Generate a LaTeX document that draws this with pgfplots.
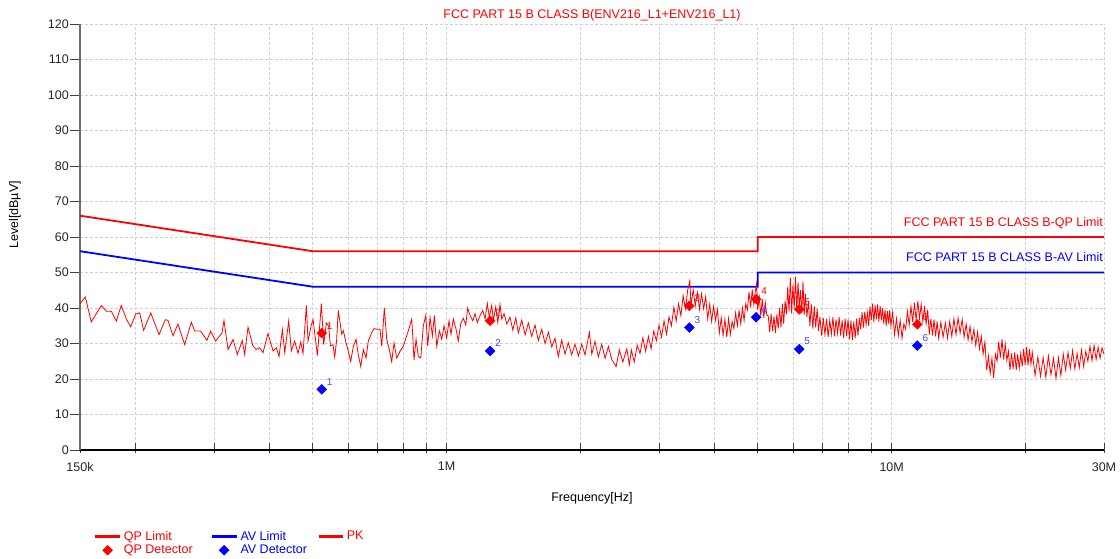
\documentclass[border=0pt]{standalone}
\usepackage{fontspec}
\setmainfont{Liberation Sans}
\usepackage{pgfplots}
\pgfplotsset{compat=1.18}
\definecolor{avlbl}{RGB}{70,70,255}
\definecolor{gridc}{RGB}{208,208,208}
\definecolor{axgray}{RGB}{110,110,110}
\pgfplotsset{
  qpleg/.style={legend image code/.code={\fill[red] (0pt,-0.9pt) rectangle (23pt,0.9pt);}},
  avleg/.style={legend image code/.code={\fill[blue] (0pt,-0.9pt) rectangle (23pt,0.9pt);}},
  pkleg/.style={legend image code/.code={\fill[red] (0pt,-0.9pt) rectangle (23pt,0.9pt);}},
  markleg/.style={legend image code/.code={\draw[##1] plot coordinates {(11.5pt,0pt)};}},
}
\begin{document}
\fontsize{12.5}{14}\selectfont
\begin{tikzpicture}[x=1pt,y=1pt]
\path[use as bounding box] (-80,-109) rectangle (1040,450);
\begin{axis}[
  at={(0,0)}, anchor=south west,
  scale only axis, width=1024pt, height=426pt,
  clip mode=individual,
  xmode=log, xmin=0.15, xmax=30, ymin=0, ymax=120,
  /pgf/number format/assume math mode=true,
  axis lines=left, axis line style={-},
  x axis line style={black, line width=1.1pt},
  y axis line style={axgray, line width=1.6pt},
  xtick={0.15,1,10,30}, xticklabels={150k,1M,10M,30M},
  minor xtick={0.2,0.3,0.4,0.5,0.6,0.7,0.8,0.9,2,3,4,5,6,7,8,9,20},
  ytick={0,10,...,120},
  grid=both,
  major grid style={gridc, dash pattern=on 3pt off 2pt, line width=0.6pt},
  minor grid style={gridc, dash pattern=on 3pt off 2pt, line width=0.6pt},
  tick align=outside, major tick length=10pt, minor tick length=10pt,
  every tick/.style={black!75, line width=0.8pt},
  every x tick/.append style={yshift=7pt},
  tick label style={font=\fontsize{12.5}{14}\selectfont, text=black!85},
  yticklabel style={inner sep=1pt},
  xticklabel style={yshift=2pt},
  xlabel={Frequency[Hz]}, ylabel={Level[dBµV]},
  every axis x label/.style={at={(axis description cs:0.5,0)}, anchor=base, yshift=-52pt, font=\fontsize{12.5}{14}\selectfont},
  every axis y label/.style={at={(axis description cs:-0.0635,0.552)}, anchor=center, rotate=90, font=\fontsize{12.5}{14}\selectfont},
  legend columns=3,
  legend cell align=left,
  legend style={draw=none, fill=none, at={(axis description cs:0.0146,-0.185)}, anchor=north west,
    font=\fontsize{12.5}{13}\selectfont, inner sep=0pt, row sep=-1pt,
    /tikz/every odd column/.append style={column sep=2pt},
    /tikz/column 2/.style={column sep=17pt},
    /tikz/column 4/.style={column sep=10pt}},
]
% QP limit
\addplot[red, line width=1.8pt, qpleg]
  coordinates {(0.15,66) (0.5,56) (5,56) (5,60) (30,60)};
\addlegendentry{\textcolor{red}{QP Limit}}
% AV limit
\addplot[blue, line width=1.8pt, avleg]
  coordinates {(0.15,56) (0.5,46) (5,46) (5,50) (30,50)};
\addlegendentry{\textcolor{blue}{AV Limit}}
% PK trace
\addplot[red, line width=0.8pt, pkleg]
  coordinates {
(0.150,41.2) (0.1542,43.1) (0.1590,36.1) (0.1676,40.7) (0.1719,39.1) (0.1764,39.1) (0.1810,36.3) (0.1857,40.7)
(0.1907,36.9) (0.1950,34.7) (0.2001,38.3) (0.2043,38.6) (0.2085,33.7) (0.2163,38.6) (0.2258,32.5) (0.2332,36.7)
(0.2365,36.5) (0.2427,32.2) (0.2490,35.5) (0.2578,29.7) (0.2669,36.0) (0.2715,33.5) (0.2800,33.5) (0.2893,30.9)
(0.2949,33.5) (0.3027,30.7) (0.3128,33.0) (0.3160,36.5) (0.3227,28.3) (0.3311,31.1) (0.3386,26.9) (0.3474,30.8)
(0.3516,26.9) (0.3578,34.6) (0.3671,29.3) (0.3735,28.3) (0.3801,28.8) (0.3867,27.4) (0.3968,32.8) (0.4073,27.9)
(0.4143,28.8) (0.4201,26.3) (0.4275,33.9) (0.4327,27.4) (0.4416,36.3) (0.4477,27.9) (0.4555,30.7) (0.4635,27.2)
(0.4700,30.4) (0.4756,27.2) (0.4839,40.7) (0.4881,30.7) (0.4967,35.3) (0.5010,36.7) (0.5124,26.6) (0.5230,41.2)
(0.5293,29.7) (0.5367,35.8) (0.5432,34.9) (0.5479,29.3) (0.5555,29.7) (0.5603,26.2) (0.5660,31.0) (0.5708,39.3)
(0.5811,32.6) (0.5860,33.6) (0.5941,30.2) (0.6013,27.8) (0.6088,24.9) (0.6170,29.2) (0.6258,31.2) (0.6333,26.8)
(0.6412,23.5) (0.6498,28.3) (0.6590,25.9) (0.6668,30.7) (0.6787,33.1) (0.6869,34.2) (0.6965,34.0) (0.7084,34.0)
(0.7147,29.2) (0.7244,40.0) (0.7334,31.2) (0.7433,28.3) (0.7526,24.9) (0.7617,30.2) (0.7724,25.9) (0.7857,27.8)
(0.7991,29.2) (0.8202,33.6) (0.8349,36.9) (0.8448,25.4) (0.8536,31.2) (0.8639,26.3) (0.8746,25.9) (0.8864,35.0)
(0.8975,37.9) (0.9068,29.2) (0.9177,37.4) (0.9288,32.1) (0.9385,37.9) (0.9501,29.2) (0.9629,33.6) (0.9750,31.2)
(0.9867,35.0) (1.000,31.6) (1.0125,36.4) (1.023,32.6) (1.035,36.9) (1.050,34.0) (1.062,30.7) (1.076,35.7)
(1.090,37.1) (1.104,35.2) (1.115,40.0) (1.129,37.9) (1.145,36.4) (1.158,38.4) (1.172,35.9) (1.189,37.9)
(1.205,39.3) (1.220,36.9) (1.234,41.3) (1.247,37.4) (1.263,40.8) (1.273,36.4) (1.289,40.3) (1.303,35.9)
(1.318,41.0) (1.330,36.9) (1.346,38.4) (1.365,35.5) (1.388,37.4) (1.408,33.8) (1.430,37.2) (1.449,33.0)
(1.475,36.6) (1.501,32.4) (1.526,35.8) (1.553,32.0) (1.580,35.2) (1.607,30.8) (1.636,34.0) (1.664,30.0)
(1.693,33.2) (1.723,29.0) (1.752,31.5) (1.782,26.3) (1.814,31.0) (1.845,27.0) (1.877,30.2) (1.910,26.8)
(1.943,29.8) (1.977,26.5) (2.012,29.8) (2.046,26.8) (2.093,33.1) (2.119,27.0) (2.155,30.6) (2.192,26.2)
(2.231,29.8) (2.270,25.8) (2.309,29.2) (2.350,25.5) (2.403,23.5) (2.444,28.2) (2.488,24.8) (2.540,28.5)
(2.574,24.0) (2.60,28.2) (2.64,24.8) (2.68,29.5) (2.72,27.2) (2.76,31.6) (2.80,27.8) (2.84,32.0)
(2.88,28.5) (2.92,33.5) (2.96,30.8) (3.00,35.2) (3.04,31.8) (3.08,36.4) (3.12,32.6) (3.16,37.5)
(3.20,35.0) (3.24,40.2) (3.28,36.3) (3.32,41.2) (3.36,37.8) (3.40,43.5) (3.44,39.8) (3.48,45.0)
(3.52,47.7) (3.54,40.5) (3.58,45.2) (3.62,40.6) (3.66,44.3) (3.70,39.6) (3.74,44.0) (3.78,39.8)
(3.82,43.2) (3.86,37.0) (3.90,41.0) (3.94,36.2) (3.98,40.4) (4.02,36.5) (4.06,39.6) (4.10,33.0)
(4.14,37.2) (4.18,32.3) (4.22,36.8) (4.26,31.8) (4.30,37.0) (4.34,32.5) (4.38,36.2) (4.42,34.2)
(4.46,38.6) (4.50,35.0) (4.54,39.2) (4.58,35.6) (4.62,40.0) (4.66,36.5) (4.70,41.2) (4.74,39.5)
(4.78,44.5) (4.82,40.2) (4.86,45.2) (4.90,41.0) (4.94,44.8) (4.97,46.8) (5.00,39.5) (5.04,43.0)
(5.08,37.8) (5.12,42.5) (5.16,37.2) (5.20,41.5) (5.24,38.0) (5.28,37.8) (5.32,33.2) (5.36,38.4)
(5.40,33.5) (5.44,37.6) (5.48,33.0) (5.52,38.2) (5.56,34.2) (5.60,40.0) (5.64,34.5) (5.68,41.2)
(5.72,35.5) (5.76,42.0) (5.80,38.2) (5.84,46.0) (5.88,39.0) (5.92,48.5) (5.96,38.5) (6.00,46.5)
(6.04,40.0) (6.08,48.8) (6.12,39.2) (6.16,47.2) (6.20,40.5) (6.24,45.0) (6.28,38.5) (6.32,47.5)
(6.36,38.0) (6.40,44.0) (6.45,37.5) (6.50,42.0) (6.55,35.0) (6.60,41.0) (6.65,34.2) (6.70,40.5)
(6.75,34.5) (6.80,39.8) (6.85,33.5) (6.90,37.5) (6.96,32.2) (7.02,37.2) (7.08,32.5) (7.14,37.0)
(7.20,31.8) (7.26,36.6) (7.32,32.6) (7.38,37.4) (7.44,32.0) (7.50,36.8) (7.56,32.8) (7.62,37.5)
(7.68,32.2) (7.74,36.5) (7.80,31.5) (7.86,37.0) (7.92,32.0) (7.98,36.8) (8.04,31.2) (8.10,36.5)
(8.16,31.0) (8.22,36.2) (8.28,31.5) (8.34,37.0) (8.40,32.2) (8.46,37.2) (8.52,34.0) (8.58,38.8)
(8.64,34.5) (8.70,39.0) (8.76,35.2) (8.82,38.6) (8.88,35.0) (8.94,40.5) (9.00,36.5) (9.06,41.2)
(9.12,36.0) (9.18,40.8) (9.24,36.8) (9.30,41.0) (9.36,36.2) (9.42,40.6) (9.48,36.5) (9.54,40.0)
(9.60,35.5) (9.66,39.5) (9.72,35.0) (9.78,39.2) (9.84,35.6) (9.90,39.4) (9.96,35.0) (10.05,38.8)
(10.15,32.5) (10.25,37.0) (10.35,32.2) (10.45,36.5) (10.55,31.5) (10.65,35.5) (10.75,34.0) (10.85,39.0)
(10.95,35.2) (11.05,40.5) (11.15,36.0) (11.25,41.5) (11.35,36.5) (11.45,42.0) (11.55,37.0) (11.65,41.0)
(11.75,36.2) (11.85,40.5) (11.95,35.5) (12.05,39.5) (12.15,32.5) (12.25,37.0) (12.35,32.2) (12.45,36.8)
(12.55,32.0) (12.65,36.2) (12.75,31.5) (12.90,36.0) (13.05,31.8) (13.20,35.8) (13.35,31.5) (13.50,36.2)
(13.65,32.0) (13.80,37.0) (13.95,32.5) (14.10,37.2) (14.25,33.0) (14.40,36.8) (14.55,31.8) (14.70,35.5)
(14.85,31.0) (15.00,34.8) (15.15,30.5) (15.30,34.0) (15.45,29.5) (15.60,33.2) (15.75,28.5) (15.90,32.0)
(16.05,27.0) (16.20,30.5) (16.35,22.5) (16.50,26.5) (16.65,21.5) (16.80,25.8) (16.95,20.3) (17.10,27.0)
(17.25,25.0) (17.40,30.5) (17.55,26.0) (17.70,31.2) (17.85,25.5) (18.00,29.8) (18.15,25.2) (18.30,27.8)
(18.45,22.5) (18.60,27.2) (18.75,22.8) (18.90,27.5) (19.05,22.5) (19.20,27.0) (19.35,23.0) (19.50,27.2)
(19.65,23.5) (19.80,28.5) (19.95,24.0) (20.10,29.0) (20.25,23.8) (20.40,28.5) (20.55,24.2) (20.70,27.5)
(21.0,21.0) (21.3,26.2) (21.6,20.8) (21.9,26.0) (22.2,20.5) (22.5,26.5) (22.8,21.2) (23.1,25.8)
(23.4,20.2) (23.7,26.0) (24.0,21.0) (24.3,27.0) (24.6,22.5) (24.9,27.5) (25.2,23.0) (25.5,28.0)
(25.8,22.8) (26.1,27.2) (26.4,23.2) (26.7,28.2) (27.0,23.5) (27.3,27.8) (27.6,25.0) (27.9,29.2)
(28.2,25.2) (28.5,29.5) (28.8,25.5) (29.1,29.0) (29.4,25.8) (29.7,28.8) (30.0,27.0)
  };
\addlegendentry{\textcolor{red}{PK}}
% QP detector
\addplot[only marks, mark=square*, mark size=3.5pt, mark options={rotate=45}, red, markleg,
  nodes near coords, point meta=explicit symbolic,
  nodes near coords style={anchor=south west, text=red, font=\fontsize{10}{10}\selectfont, inner sep=0pt, xshift=5pt, yshift=4pt}]
  table[meta=lab, row sep=\\] {
x y lab\\
0.524 32.9 1\\
1.252 36.4 2\\
3.51 40.6 3\\
4.96 42.5 4\\
6.20 39.6 5\\
11.42 35.4 6\\
};
\addlegendentry{\textcolor{red}{QP Detector}}
% AV detector
\addplot[only marks, mark=square*, mark size=3.5pt, mark options={rotate=45}, blue, markleg,
  nodes near coords, point meta=explicit symbolic,
  nodes near coords style={anchor=south west, text=avlbl, font=\fontsize{10}{10}\selectfont, inner sep=0pt, xshift=5pt, yshift=4pt}]
  table[meta=lab, row sep=\\] {
x y lab\\
0.524 17.1 1\\
1.252 27.9 2\\
3.51 34.5 3\\
4.96 37.4 4\\
6.20 28.4 5\\
11.42 29.4 6\\
};
\addlegendentry{\textcolor{blue}{AV Detector}}
\node[anchor=base east, text=red, inner sep=0pt, yshift=10pt, xshift=-1pt] at (axis cs:30,60) {FCC PART 15 B CLASS B-QP Limit};
\node[anchor=base east, text=blue, inner sep=0pt, yshift=11pt, xshift=-1pt] at (axis cs:30,50) {FCC PART 15 B CLASS B-AV Limit};
\node[anchor=base, text=red, inner sep=0pt, yshift=5pt] at (rel axis cs:0.5,1) {FCC PART 15 B CLASS B(ENV216\_L1+ENV216\_L1)};
\end{axis}
\end{tikzpicture}
\end{document}
